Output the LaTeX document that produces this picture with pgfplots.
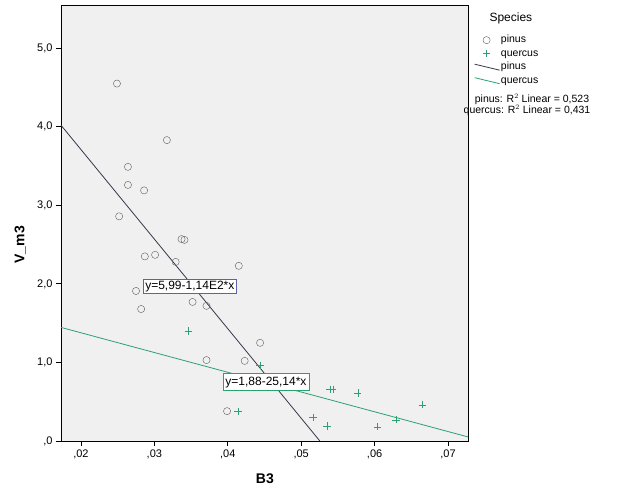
\documentclass[border=0pt]{standalone}
\usepackage{fontspec}
\setmainfont{Liberation Sans}
\usepackage{pgfplots}
\pgfplotsset{compat=1.18}
\definecolor{pinusc}{RGB}{95,95,95}
\definecolor{pinusl}{RGB}{55,55,75}
\definecolor{quercc}{RGB}{45,160,115}
\definecolor{bgc}{RGB}{240,240,240}
\definecolor{boxb}{RGB}{90,100,170}
\pgfplotsset{
  diagline/.style={legend image code/.code={
    \path[draw=none] (0pt,0pt) -- (25pt,0pt);
    \draw[##1] (0pt,3pt) -- (25pt,-3pt);}},
  markimg/.style={legend image code/.code={
    \path[draw=none] (0pt,0pt) -- (25pt,0pt);
    \draw[##1, only marks] plot coordinates {(12pt,0pt)};}},
}

\begin{document}
\begin{tikzpicture}[x=1pt,y=1pt]
\begin{axis}[
  name=ax,
  scale only axis, width=407pt, height=436pt,
  xmin=0.01728, xmax=0.07272, ymin=0, ymax=5.55,
  scaled x ticks=false,
  xtick={0.02,0.03,0.04,0.05,0.06,0.07},
  xticklabels={{,02},{,03},{,04},{,05},{,06},{,07}},
  ytick={0,1,2,3,4,5},
  yticklabels={{,0},{1,0},{2,0},{3,0},{4,0},{5,0}},
  xtick pos=bottom, ytick pos=left,
  tick align=outside, major tick length=5pt,
  tick style={black, thick},
  axis line style={black, thick},
  axis background/.style={fill=bgc},
  tick label style={font=\fontsize{11}{12}\selectfont},
  xlabel={\textbf{B3}}, ylabel={\textbf{V\_m3}},
  label style={font=\fontsize{14}{16}\selectfont},
  xlabel style={at={(axis description cs:0.501,-0.087)}, anchor=center},
  ylabel style={at={(axis description cs:-0.1,0.45)}, anchor=center},
  legend style={draw=none, fill=none, font=\fontsize{10.5}{12}\selectfont,
    at={(axis description cs:1.0147,0.9307)}, anchor=north west,
    nodes={text height=7.5pt, text depth=2pt, inner xsep=1pt, inner ysep=0pt},
    row sep=4pt, inner sep=0pt},
  legend cell align=left,
]
\coordinate (O) at (rel axis cs:0,0);
% pinus (circles)
\addplot[only marks, mark=o, mark size=3.6pt, pinusc, thin, markimg] coordinates {
(0.0249,4.55) (0.0317,3.83) (0.0264,3.49) (0.0264,3.26) (0.0286,3.19)
(0.0252,2.86) (0.0337,2.57) (0.0341,2.56) (0.0287,2.35) (0.0301,2.37)
(0.0329,2.28) (0.0415,2.23) (0.0275,1.91) (0.0352,1.77) (0.0371,1.72)
(0.0282,1.68) (0.0444,1.25) (0.0371,1.03) (0.0423,1.02) (0.0399,0.38)
};
\addlegendentry{pinus}
% quercus (crosses)
\addplot[only marks, mark=+, mark size=3.6pt, quercc, thin, markimg] coordinates {
(0.0346,1.40) (0.0444,0.96) (0.0414,0.38) (0.0516,0.30) (0.0535,0.19)
(0.0539,0.66) (0.0543,0.66) (0.0577,0.61) (0.0604,0.18) (0.0629,0.27)
(0.0665,0.46)
};
\addlegendentry{quercus}
% fit lines
\addplot[pinusl, thick, diagline] coordinates {(0.01728,4.02) (0.05254,0)};
\addlegendentry{pinus}
\addplot[quercc, thick, diagline] coordinates {(0.01728,1.446) (0.07272,0.052)};
\addlegendentry{quercus}
\node[draw=boxb, fill=white, inner xsep=2pt, inner ysep=2pt, font=\fontsize{12}{13}\selectfont]
  at (axis cs:0.03483,1.97) {y=5,99-1,14E2*x};
\node[draw=quercc, fill=white, inner xsep=2.5pt, inner ysep=3pt, font=\fontsize{12}{13}\selectfont]
  at (axis cs:0.0452,0.75) {y=1,88-25,14*x};
\end{axis}
\pgfresetboundingbox
\begin{scope}[shift={(O)}, shift={(-61,-60)}]
\path[use as bounding box] (0,0) rectangle (626,501);
\node[anchor=west, font=\fontsize{12}{14}\selectfont] at (486,483) {Species};
\node[font=\fontsize{10.5}{12}\selectfont] at (532,402) {pinus: R$^{2}$ Linear = 0,523};
\node[font=\fontsize{10.5}{12}\selectfont] at (527,391) {quercus: R$^{2}$ Linear = 0,431};
\end{scope}
\end{tikzpicture}
\end{document}
